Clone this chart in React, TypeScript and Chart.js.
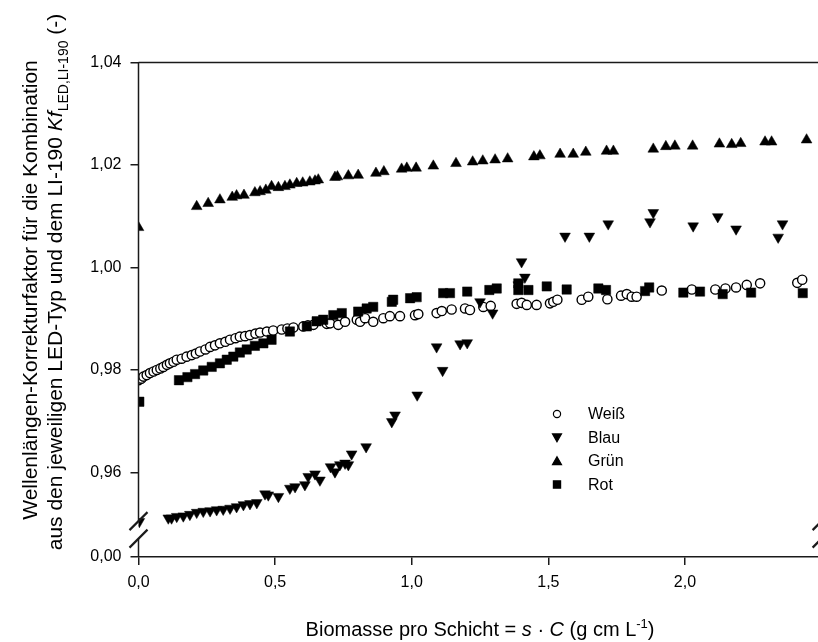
import React, { useEffect, useRef } from "react";
import { Chart, registerables } from "chart.js";

Chart.register(...registerables);

// ---------- data (x: Biomasse pro Schicht, y: Kf) ----------
const weissPoints: [number, number][] = [
  [0.000, 0.9780], [0.010, 0.9783], [0.018, 0.9787], [0.030, 0.9790], [0.042, 0.9794], [0.055, 0.9797],
  [0.067, 0.9800], [0.080, 0.9803], [0.091, 0.9806], [0.104, 0.9810], [0.115, 0.9813], [0.128, 0.9816],
  [0.140, 0.9820], [0.158, 0.9822], [0.176, 0.9826], [0.195, 0.9829], [0.210, 0.9832], [0.225, 0.9836],
  [0.245, 0.9840], [0.262, 0.9845], [0.280, 0.9848], [0.298, 0.9852], [0.318, 0.9855], [0.335, 0.9859],
  [0.355, 0.9862], [0.371, 0.9865], [0.390, 0.9866], [0.408, 0.9868], [0.428, 0.9871], [0.445, 0.9873],
  [0.470, 0.9875], [0.493, 0.9877], [0.524, 0.9879], [0.545, 0.9881], [0.567, 0.9883], [0.603, 0.9885],
  [0.620, 0.9887], [0.640, 0.9888], [0.689, 0.9890], [0.701, 0.9891], [0.731, 0.9888], [0.756, 0.9894],
  [0.799, 0.9898], [0.811, 0.9894], [0.829, 0.9901], [0.859, 0.9894], [0.896, 0.9901], [0.920, 0.9905],
  [0.957, 0.9905], [1.012, 0.9907], [1.024, 0.9909], [1.091, 0.9911], [1.110, 0.9915], [1.146, 0.9918],
  [1.195, 0.9920], [1.213, 0.9917], [1.262, 0.9923], [1.289, 0.9925], [1.384, 0.9929], [1.402, 0.9931],
  [1.421, 0.9927], [1.457, 0.9927], [1.506, 0.9930], [1.518, 0.9933], [1.533, 0.9937], [1.622, 0.9937],
  [1.646, 0.9943], [1.716, 0.9938], [1.766, 0.9945], [1.787, 0.9948], [1.805, 0.9943], [1.823, 0.9943],
  [1.915, 0.9955], [2.025, 0.9957], [2.111, 0.9957], [2.148, 0.9959], [2.187, 0.9961], [2.226, 0.9966],
  [2.275, 0.9969], [2.411, 0.9970], [2.429, 0.9976],
];

const blauPoints: [number, number][] = [
  [0.003, 0.9504], [0.109, 0.9511], [0.121, 0.9511], [0.140, 0.9514], [0.164, 0.9515], [0.188, 0.9518],
  [0.213, 0.9522], [0.237, 0.9524], [0.262, 0.9525], [0.286, 0.9527], [0.310, 0.9528], [0.335, 0.9530],
  [0.359, 0.9533], [0.384, 0.9537], [0.408, 0.9539], [0.433, 0.9541], [0.463, 0.9558], [0.475, 0.9556],
  [0.512, 0.9553], [0.554, 0.9569], [0.573, 0.9572], [0.609, 0.9576], [0.621, 0.9592], [0.646, 0.9597],
  [0.664, 0.9585], [0.703, 0.9611], [0.719, 0.9601], [0.737, 0.9615], [0.756, 0.9618], [0.768, 0.9615],
  [0.780, 0.9636], [0.833, 0.9650], [0.927, 0.9699], [0.939, 0.9712], [1.020, 0.9751], [1.091, 0.9845],
  [1.113, 0.9799], [1.177, 0.9851], [1.203, 0.9853], [1.250, 0.9933], [1.296, 0.9911], [1.390, 0.9966],
  [1.402, 1.0011], [1.414, 0.9981], [1.561, 1.0061], [1.650, 1.0061], [1.719, 1.0085], [1.872, 1.0089],
  [1.884, 1.0107], [2.030, 1.0081], [2.120, 1.0099], [2.187, 1.0075], [2.341, 1.0059], [2.357, 1.0085],
];

const gruenPoints: [number, number][] = [
  [0.000, 1.0078], [0.213, 1.0119], [0.255, 1.0125], [0.298, 1.0132], [0.343, 1.0137], [0.359, 1.0140],
  [0.386, 1.0141], [0.426, 1.0146], [0.445, 1.0148], [0.466, 1.0151], [0.487, 1.0158], [0.512, 1.0156],
  [0.536, 1.0158], [0.554, 1.0161], [0.579, 1.0164], [0.601, 1.0165], [0.627, 1.0167], [0.646, 1.0169],
  [0.658, 1.0171], [0.719, 1.0176], [0.728, 1.0177], [0.768, 1.0179], [0.804, 1.0180], [0.869, 1.0184],
  [0.898, 1.0187], [0.963, 1.0192], [0.982, 1.0194], [1.016, 1.0194], [1.079, 1.0198], [1.162, 1.0203],
  [1.223, 1.0206], [1.260, 1.0208], [1.305, 1.0210], [1.351, 1.0212], [1.447, 1.0216], [1.469, 1.0218],
  [1.543, 1.0221], [1.591, 1.0221], [1.637, 1.0225], [1.713, 1.0227], [1.738, 1.0227], [1.884, 1.0231],
  [1.930, 1.0236], [1.963, 1.0237], [2.028, 1.0237], [2.126, 1.0241], [2.171, 1.0240], [2.204, 1.0242],
  [2.293, 1.0245], [2.317, 1.0245], [2.445, 1.0249],
];

const rotPoints: [number, number][] = [
  [0.003, 0.9738], [0.148, 0.9780], [0.179, 0.9786], [0.207, 0.9792], [0.237, 0.9799], [0.268, 0.9806],
  [0.298, 0.9813], [0.323, 0.9820], [0.347, 0.9826], [0.371, 0.9834], [0.396, 0.9840], [0.426, 0.9847],
  [0.457, 0.9852], [0.487, 0.9859], [0.554, 0.9875], [0.616, 0.9885], [0.652, 0.9895], [0.676, 0.9898],
  [0.713, 0.9907], [0.744, 0.9911], [0.804, 0.9914], [0.835, 0.9920], [0.859, 0.9923], [0.927, 0.9933],
  [0.932, 0.9937], [0.994, 0.9940], [1.018, 0.9942], [1.115, 0.9950], [1.140, 0.9950], [1.203, 0.9953],
  [1.284, 0.9956], [1.311, 0.9959], [1.390, 0.9956], [1.390, 0.9969], [1.427, 0.9956], [1.494, 0.9963],
  [1.567, 0.9957], [1.683, 0.9959], [1.711, 0.9956], [1.854, 0.9954], [1.869, 0.9961], [1.994, 0.9951],
  [2.055, 0.9953], [2.138, 0.9948], [2.242, 0.9951], [2.431, 0.9950],
];

const seriesLabels = ["Weiß", "Blau", "Grün", "Rot"];
const xTickValues = [0, 0.5, 1.0, 1.5, 2.0];
const yTickValues = [0.96, 0.98, 1.0, 1.02, 1.04];
const yBreakTickLabel = "0,00";
// axis position (in upper-segment units) where the broken axis' "0,00" sits
const Y_BREAK_POS = 0.9435;

const FONT = "'Liberation Sans', Arial, sans-serif";

const toXY = (pts: [number, number][]) => pts.map(([x, y]) => ({ x, y }));

function drawMarker(ctx: CanvasRenderingContext2D, style: string, rot: number, x: number, y: number, r: number, fill: string) {
  ctx.save();
  ctx.beginPath();
  if (style === "circle") {
    ctx.arc(x, y, r, 0, Math.PI * 2);
  } else if (style === "rect") {
    ctx.rect(x - r, y - r, 2 * r, 2 * r);
  } else {
    const dir = rot === 180 ? -1 : 1;
    ctx.moveTo(x, y - dir * r);
    ctx.lineTo(x + r * 0.866, y + dir * r * 0.5);
    ctx.lineTo(x - r * 0.866, y + dir * r * 0.5);
    ctx.closePath();
  }
  ctx.fillStyle = fill;
  ctx.fill();
  ctx.lineWidth = 1.2;
  ctx.strokeStyle = "#000";
  ctx.stroke();
  ctx.restore();
}

type Seg = { t: string; italic?: boolean; sub?: boolean; sup?: boolean };

function drawSegs(ctx: CanvasRenderingContext2D, segs: Seg[], cx: number, baseY: number, size: number) {
  const fontFor = (s: Seg) =>
    `${s.italic ? "italic " : ""}${s.sub || s.sup ? Math.round(size * 0.66) : size}px ${FONT}`;
  let total = 0;
  for (const s of segs) {
    ctx.font = fontFor(s);
    total += ctx.measureText(s.t).width;
  }
  let x = cx - total / 2;
  ctx.textAlign = "left";
  ctx.textBaseline = "alphabetic";
  for (const s of segs) {
    ctx.font = fontFor(s);
    const dy = s.sub ? size * 0.3 : s.sup ? -size * 0.42 : 0;
    ctx.fillText(s.t, x, baseY + dy);
    x += ctx.measureText(s.t).width;
  }
}

const decorPlugin = {
  id: "decor",
  afterDraw(chart: any) {
    const { ctx, chartArea, scales } = chart;
    const { left, right, top, bottom } = chartArea;
    const yS = scales.y;
    ctx.save();
    ctx.strokeStyle = "#1a1a1a";
    ctx.lineWidth = 1.5;
    // top frame line
    ctx.beginPath();
    ctx.moveTo(left, top);
    ctx.lineTo(right, top);
    ctx.stroke();
    // broken left & right axes
    const yUp = yS.getPixelForValue(0.9505);
    const yLo = yUp + 17.5;
    for (const ax of [left, right]) {
      ctx.beginPath();
      ctx.moveTo(ax, top);
      ctx.lineTo(ax, yUp);
      ctx.moveTo(ax, yLo);
      ctx.lineTo(ax, bottom);
      ctx.stroke();
      ctx.lineWidth = 2.2;
      for (const yc of [yUp, yLo]) {
        ctx.beginPath();
        ctx.moveTo(ax - 9, yc + 9);
        ctx.lineTo(ax + 9, yc - 9);
        ctx.stroke();
      }
      ctx.lineWidth = 1.5;
    }

    // y axis title (rotated)
    ctx.fillStyle = "#000";
    const size = 21;
    ctx.save();
    ctx.translate(0, 0);
    ctx.rotate(-Math.PI / 2);
    drawSegs(ctx, [{ t: "Wellenlängen-Korrekturfaktor für die Kombination" }], -290, 37, size);
    drawSegs(
      ctx,
      [
        { t: "aus den jeweiligen LED-Typ und dem LI-190 " },
        { t: "Kf", italic: true },
        { t: "LED,LI-190", sub: true },
        { t: " (-)" },
      ],
      -282,
      62,
      size
    );
    ctx.restore();

    // x axis title
    drawSegs(
      ctx,
      [
        { t: "Biomasse pro Schicht = " },
        { t: "s", italic: true },
        { t: " · " },
        { t: "C", italic: true },
        { t: " (g cm L" },
        { t: "-1", sup: true },
        { t: ")" },
      ],
      (left + right) / 2,
      636,
      20
    );

    // legend
    const lx = 557;
    const rows = [414, 437.5, 461, 484.5];
    chart.data.datasets.forEach((ds: any, i: number) => {
      const y = rows[i];
      const style = ds.pointStyle;
      const r = style === "circle" ? 3.6 : style === "rect" ? 3.6 : 5.2;
      drawMarker(ctx, style, ds.pointRotation || 0, lx, style === "triangle" ? y + (ds.pointRotation ? -1 : 1) : y, r, ds.pointBackgroundColor);
      ctx.fillStyle = "#000";
      ctx.font = `16px ${FONT}`;
      ctx.textAlign = "left";
      ctx.textBaseline = "middle";
      ctx.fillText(ds.label, 588, y + 1);
    });
    ctx.restore();
  },
};

export default function App() {
  const canvasRef = useRef<HTMLCanvasElement | null>(null);

  useEffect(() => {
    if (!canvasRef.current) return;
    const yTicksAll = [Y_BREAK_POS, ...yTickValues];
    const chart = new Chart(canvasRef.current, {
      type: "scatter",
      data: {
        datasets: [
          {
            label: seriesLabels[0],
            data: toXY(weissPoints),
            pointStyle: "circle",
            pointRadius: 4.6,
            pointBackgroundColor: "#fff",
            pointBorderColor: "#000",
            pointBorderWidth: 1.4,
            order: 4,
          },
          {
            label: seriesLabels[1],
            data: toXY(blauPoints),
            pointStyle: "triangle",
            pointRotation: 180,
            pointRadius: 6.2,
            pointBackgroundColor: "#000",
            pointBorderColor: "#000",
            pointBorderWidth: 0.5,
            order: 3,
          },
          {
            label: seriesLabels[2],
            data: toXY(gruenPoints),
            pointStyle: "triangle",
            pointRadius: 6.2,
            pointBackgroundColor: "#000",
            pointBorderColor: "#000",
            pointBorderWidth: 0.5,
            order: 2,
          },
          {
            label: seriesLabels[3],
            data: toXY(rotPoints),
            pointStyle: "rect",
            pointRadius: 6.6,
            pointBackgroundColor: "#000",
            pointBorderColor: "#000",
            pointBorderWidth: 0.5,
            order: 1,
          },
        ] as any,
      },
      options: {
        animation: false,
        responsive: false,
        maintainAspectRatio: false,
        layout: { padding: { top: 62.5, right: 18.4, left: 0, bottom: 0 } },
        plugins: { legend: { display: false }, tooltip: { enabled: false } },
        scales: {
          x: {
            type: "linear",
            min: 0,
            max: 2.5,
            afterBuildTicks: (s: any) => {
              s.ticks = xTickValues.map((v) => ({ value: v }));
            },
            afterFit: (s: any) => {
              s.height = 85;
            },
            ticks: {
              callback: (v: any) => Number(v).toFixed(1).replace(".", ","),
              font: { family: FONT, size: 16 },
              color: "#000",
              padding: 8,
              maxRotation: 0,
              autoSkip: false,
            },
            grid: { display: true, drawOnChartArea: false, drawTicks: true, tickLength: 8, color: "#1a1a1a", lineWidth: 1.5 },
            border: { display: true, color: "#1a1a1a", width: 1.5 },
          },
          y: {
            type: "linear",
            min: Y_BREAK_POS,
            max: 1.04,
            afterBuildTicks: (s: any) => {
              s.ticks = yTicksAll.map((v) => ({ value: v }));
            },
            afterFit: (s: any) => {
              s.width = 138.5;
            },
            ticks: {
              callback: (v: any) =>
                Math.abs(Number(v) - Y_BREAK_POS) < 1e-6 ? yBreakTickLabel : Number(v).toFixed(2).replace(".", ","),
              font: { family: FONT, size: 16 },
              color: "#000",
              padding: 9,
              autoSkip: false,
            },
            grid: { display: true, drawOnChartArea: false, drawTicks: true, tickLength: 8, color: "#1a1a1a", lineWidth: 1.5 },
            border: { display: false },
          },
        },
      },
      plugins: [decorPlugin],
    });
    return () => chart.destroy();
  }, []);

  return (
    <div style={{ position: "fixed", left: 0, top: 0, width: 818, height: 642, overflow: "hidden", background: "#fff" }}>
      <canvas ref={canvasRef} width={840} height={642} style={{ display: "block" }} />
    </div>
  );
}
